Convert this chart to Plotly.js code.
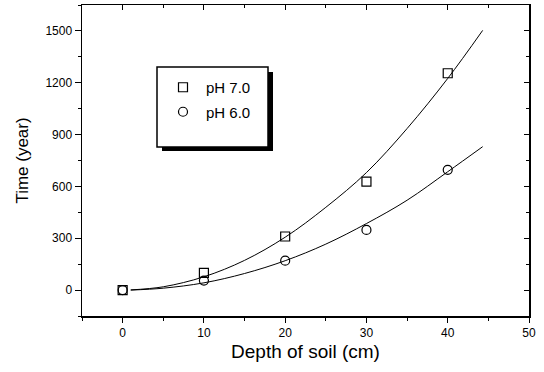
<!DOCTYPE html>
<html>
<head>
<meta charset="utf-8">
<script src="https://cdn.plot.ly/plotly-3.0.1.min.js"></script>
<style>html,body{margin:0;padding:0;background:#fff;}#chart{width:544px;height:372px;}</style>
</head>
<body>
<div id="chart"></div>
<script>
// Measured data
const depth = [0, 10, 20, 30, 40];
const ph7 = [0, 100, 310, 628, 1255];
const ph6 = [0, 55, 170, 348, 696];
// Fitted curves
const fitX = [1, 5, 10, 15, 20, 25, 30, 35, 40, 44.3];
const fit7 = [1, 19, 77, 172, 306, 479, 680, 935, 1225, 1503];
const fit6 = [0, 11, 42, 96, 170, 266, 385, 520, 685, 830];
const names = ['pH 7.0', 'pH 6.0'];
const xTicks = [0, 10, 20, 30, 40, 50];
const yTicks = [0, 300, 600, 900, 1200, 1500];

const L = 82, R = 15, T = 5, B = 56, W = 544, H = 372;
const pw = W - L - R, ph = H - T - B;
const px = v => (v - L) / pw;
const py = v => (H - B - v) / ph;

const font = 'Liberation Sans, Arial, sans-serif';

const traces = [
  {x: fitX, y: fit7, mode: 'lines', line: {color: '#000', width: 1, shape: 'spline'}, showlegend: false, hoverinfo: 'skip'},
  {x: fitX, y: fit6, mode: 'lines', line: {color: '#000', width: 1, shape: 'spline'}, showlegend: false, hoverinfo: 'skip'},
  {x: depth, y: ph7, name: names[0], mode: 'markers', legendgroup: 'a',
   marker: {symbol: 'square-open', size: 9, color: '#000', line: {width: 1.2, color: '#000'}}},
  {x: depth, y: ph6, name: names[1], mode: 'markers', legendgroup: 'b',
   marker: {symbol: 'circle-open', size: 9, color: '#000', line: {width: 1.2, color: '#000'}}},
  {x: depth, y: ph7, xaxis: 'x2', yaxis: 'y2', mode: 'markers', marker: {opacity: 0}, showlegend: false, hoverinfo: 'skip'}
];

const xr = [-5, 50], yr = [-150, 1650];
const tf = {size: 12, color: '#000', family: font};
const layout = {
  width: W, height: H,
  margin: {l: L, r: R, t: T, b: B},
  paper_bgcolor: '#fff', plot_bgcolor: '#fff',
  font: {family: font, color: '#000', size: 12},
  showlegend: true,
  legend: {x: px(160), xanchor: 'left', y: py(71), yanchor: 'top', bgcolor: 'rgba(0,0,0,0)', borderwidth: 0,
           font: {size: 15, family: font, color: '#000'}, tracegroupgap: 2, itemwidth: 36},
  xaxis: {range: xr, tickvals: xTicks, ticks: 'outside', ticklen: 5, tickwidth: 1, tickcolor: '#000', showgrid: false, zeroline: false,
          showline: true, linecolor: '#000', linewidth: 1.5, mirror: true,
          minor: {dtick: 5, ticks: 'outside', ticklen: 3, tickcolor: '#000'},
          tickfont: tf, title: {text: 'Depth of soil (cm)', font: {size: 19, color: '#000'}, standoff: 6}},
  yaxis: {range: yr, tickvals: yTicks, ticks: 'outside', ticklen: 6, tickwidth: 1, tickcolor: '#000', showgrid: false, zeroline: false,
          showline: true, linecolor: '#000', linewidth: 1.5, mirror: true,
          minor: {dtick: 150, ticks: 'outside', ticklen: 3, tickcolor: '#000'},
          tickfont: tf, title: {text: 'Time (year)', font: {size: 17, color: '#000'}, standoff: 12}},
  xaxis2: {range: xr, overlaying: 'x', side: 'top', anchor: 'y2', tickvals: xTicks, ticks: 'inside', ticklen: 5, tickcolor: '#000',
           showticklabels: false, showgrid: false, zeroline: false, showline: false,
           minor: {dtick: 5, ticks: 'inside', ticklen: 3, tickcolor: '#000'}},
  yaxis2: {range: yr, overlaying: 'y', side: 'right', anchor: 'x2', tickvals: yTicks, ticks: 'inside', ticklen: 5, tickcolor: '#000',
           showticklabels: false, showgrid: false, zeroline: false, showline: false,
           minor: {dtick: 150, ticks: 'inside', ticklen: 3, tickcolor: '#000'}},
  shapes: [
    {type: 'rect', xref: 'paper', yref: 'paper', x0: px(162), x1: px(273), y0: py(151), y1: py(72),
     fillcolor: '#000', line: {width: 0}, layer: 'above'},
    {type: 'rect', xref: 'paper', yref: 'paper', x0: px(157), x1: px(268), y0: py(147), y1: py(67),
     fillcolor: '#fff', line: {width: 1.5, color: '#000'}, layer: 'above'}
  ]
};

Plotly.newPlot('chart', traces, layout, {displayModeBar: false, staticPlot: true});
</script>
</body>
</html>
